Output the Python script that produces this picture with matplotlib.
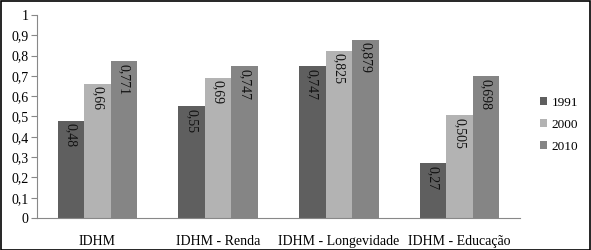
import matplotlib
matplotlib.use("Agg")
import matplotlib.pyplot as plt
import numpy as np
from matplotlib.patches import Rectangle

categories = ["IDHM", "IDHM - Renda", "IDHM - Longevidade", "IDHM - Educação"]
years = ["1991", "2000", "2010"]
v1991 = [0.48, 0.55, 0.747, 0.27]
v2000 = [0.66, 0.69, 0.825, 0.505]
v2010 = [0.771, 0.747, 0.879, 0.698]
labels1991 = ["0,48", "0,55", "0,747", "0,27"]
labels2000 = ["0,66", "0,69", "0,825", "0,505"]
labels2010 = ["0,771", "0,747", "0,879", "0,698"]
yticks = [0, 0.1, 0.2, 0.3, 0.4, 0.5, 0.6, 0.7, 0.8, 0.9, 1.0]
ytick_labels = ["0", "0,1", "0,2", "0,3", "0,4", "0,5", "0,6", "0,7", "0,8", "0,9", "1"]

colors = ["#5f5f5f", "#b3b3b3", "#858585"]

plt.rcParams['font.family'] = ['Liberation Serif', 'DejaVu Serif']

W, H = 591, 250
fig = plt.figure(figsize=(W / 100, H / 100), dpi=100)
ax = fig.add_axes([37 / W, 1 - 218 / H, (520 - 37) / W, (218 - 15) / H])

fs = 10
x = np.arange(len(categories))
bw = 0.22
series = [v1991, v2000, v2010]
lbls = [labels1991, labels2000, labels2010]
for i, (vals, lab) in enumerate(zip(series, lbls)):
    pos = x + (i - 1) * bw
    ax.bar(pos, vals, width=bw, color=colors[i], label=years[i], zorder=2)
    for p, v, t in zip(pos, vals, lab):
        ax.text(p, v - 0.012, t, rotation=270, ha='center', va='top',
                fontsize=fs, color='#111111', zorder=3)

ax.set_xlim(-0.5, len(categories) - 0.5)
ax.set_ylim(0, 1)
ax.set_yticks(yticks)
ax.set_yticklabels(ytick_labels, fontsize=fs)
ax.set_xticks(x)
ax.set_xticklabels(categories, fontsize=fs)
ax.tick_params(axis='x', length=0, pad=12)
ax.tick_params(axis='y', length=4, width=0.8, color='#888888', pad=2, direction='out')
for s in ['top', 'right']:
    ax.spines[s].set_visible(False)
for s in ['left', 'bottom']:
    ax.spines[s].set_color('#888888')
    ax.spines[s].set_linewidth(0.8)

ax.legend(loc='center left', bbox_to_anchor=(1.017, 0.46), frameon=False,
          fontsize=9.5, handlelength=0.55, handleheight=0.55, handletextpad=0.3,
          labelspacing=0.75)

fig.patches.append(Rectangle((0.5 / W, 0.5 / H), 1 - 1.5 / W, 1 - 1.5 / H,
                             transform=fig.transFigure, fill=False,
                             edgecolor='black', linewidth=1.2))

fig.savefig("out.png", dpi=100)
